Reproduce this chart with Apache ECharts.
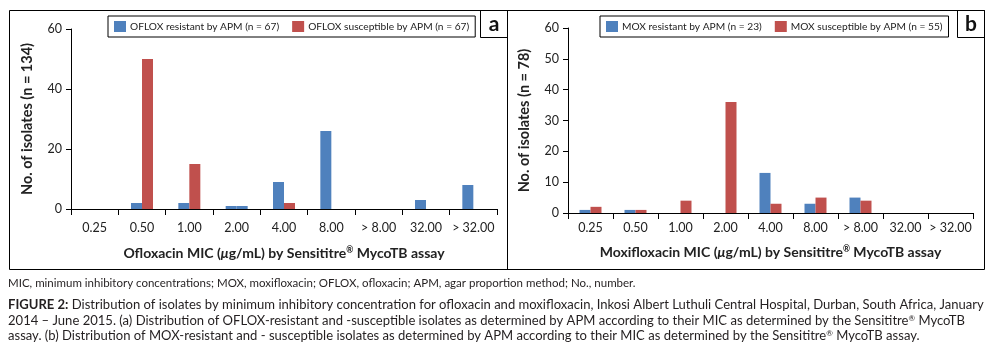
<!DOCTYPE html>
<html>
<head>
<meta charset="utf-8">
<script src="https://cdn.jsdelivr.net/npm/echarts@6/dist/echarts.min.js"></script>
<style>
  html, body { margin: 0; padding: 0; background: #fff; }
  #chart { width: 996px; height: 352px; }
</style>
</head>
<body>
<div id="chart"></div>
<script>
// MIC categories (same for both panels)
var micLabels = ['0.25', '0.50', '1.00', '2.00', '4.00', '8.00', '> 8.00', '32.00', '> 32.00'];

// panel a - ofloxacin
var oflxResistant = [0, 2, 2, 1, 9, 26, 0, 3, 8];
var oflxSusceptible = [0, 50, 15, 1, 2, 0, 0, 0, 0];
// panel b - moxifloxacin
var moxResistant = [1, 1, 0, 0, 13, 3, 5, 0, 0];
var moxSusceptible = [2, 1, 4, 36, 3, 5, 4, 0, 0];

var yTicksA = [0, 20, 40, 60];
var yTicksB = [0, 10, 20, 30, 40, 50, 60];

var blue = '#4F81BD';
var red = '#C0504D';
var font = 'Lato';

var myChart = echarts.init(document.getElementById('chart'), null, {renderer: 'canvas'});

function xAxisFor(idx, name, gap, margin) {
    return {
        type: 'category',
        gridIndex: idx,
        data: micLabels,
        axisLine: {lineStyle: {color: '#000', width: 1}},
        axisTick: {show: true, length: 6, lineStyle: {color: '#000'}},
        axisLabel: {color: '#222', fontFamily: font, fontSize: 12.5, margin: margin, interval: 0},
        name: name,
        nameLocation: 'middle',
        nameGap: gap,
        nameTextStyle: {
            color: '#222', fontFamily: font, fontSize: 14, fontWeight: 'bold',
            rich: {
                i: {fontStyle: 'italic', fontWeight: 'bold', fontFamily: font, fontSize: 14, color: '#222'},
                s: {fontSize: 8.5, fontWeight: 'bold', fontFamily: font, color: '#222', padding: [0, 0, 5, 0]}
            }
        }
    };
}

function yAxisFor(idx, name, ticks) {
    return {
        type: 'value',
        gridIndex: idx,
        min: 0,
        max: ticks[ticks.length - 1],
        interval: ticks[1] - ticks[0],
        splitLine: {show: false},
        axisLine: {show: true, lineStyle: {color: '#000', width: 1}},
        axisTick: {show: true, length: 5, lineStyle: {color: '#000'}},
        axisLabel: {color: '#222', fontFamily: font, fontSize: 12.5, margin: 9},
        name: name,
        nameLocation: 'middle',
        nameGap: 36,
        nameTextStyle: {color: '#222', fontFamily: font, fontSize: 14.5, fontWeight: 'bold'}
    };
}

function legendFor(left, names) {
    return {
        left: left,
        top: 16,
        data: [
            {name: names[0], itemStyle: {color: blue}},
            {name: names[1], itemStyle: {color: red}}
        ],
        itemWidth: 12,
        itemHeight: 11,
        itemGap: 13,
        padding: [5, 6],
        borderColor: '#000',
        borderWidth: 1,
        borderRadius: 0,
        icon: 'rect',
        textStyle: {color: '#222', fontFamily: font, fontSize: 10.2, padding: [0, 0, 0, -1]}
    };
}

function barSeries(name, data, xi, color) {
    return {
        name: name,
        type: 'bar',
        xAxisIndex: xi,
        yAxisIndex: xi,
        data: data,
        barWidth: 11,
        barGap: '0%',
        itemStyle: {color: color},
        emphasis: {disabled: true}
    };
}

var susceptA = barSeries('OFLOX susceptible by APM (n = 67)', oflxSusceptible, 0, red);
// the bar at 2.00 is drawn in blue in the original figure
susceptA.itemStyle = {color: function (p) { return p.dataIndex === 3 ? blue : red; }};

var capFill = '#231f20';
var capSize = 13.05;

option = {
    backgroundColor: '#fff',
    animation: false,
    grid: [
        {left: 71, right: 499, top: 29, bottom: 143},
        {left: 568, right: 23, top: 28, bottom: 139}
    ],
    legend: [
        legendFor(108, ['OFLOX resistant by APM (n = 67)', 'OFLOX susceptible by APM (n = 67)']),
        legendFor(600, ['MOX resistant by APM (n = 23)', 'MOX susceptible by APM (n = 55)'])
    ],
    xAxis: [
        xAxisFor(0, 'Ofloxacin MIC ({i|μ}g/mL) by Sensititre{s|®} MycoTB assay', 37, 12),
        xAxisFor(1, 'Moxifloxacin MIC ({i|μ}g/mL) by Sensititre{s|®} MycoTB assay', 32, 8)
    ],
    yAxis: [
        yAxisFor(0, 'No. of isolates (n = 134)', yTicksA),
        yAxisFor(1, 'No. of isolates (n = 78)', yTicksB)
    ],
    series: [
        barSeries('OFLOX resistant by APM (n = 67)', oflxResistant, 0, blue),
        susceptA,
        barSeries('MOX resistant by APM (n = 23)', moxResistant, 1, blue),
        barSeries('MOX susceptible by APM (n = 55)', moxSusceptible, 1, red)
    ],
    graphic: [
        // panel frames
        {type: 'rect', shape: {x: 9.5, y: 10.5, width: 975, height: 259}, style: {fill: null, stroke: '#000', lineWidth: 1}},
        {type: 'line', shape: {x1: 507.5, y1: 10, x2: 507.5, y2: 270}, style: {stroke: '#000', lineWidth: 1}},
        {type: 'rect', shape: {x: 480.5, y: 10.5, width: 27, height: 27}, style: {fill: null, stroke: '#000', lineWidth: 1}},
        {type: 'rect', shape: {x: 957.5, y: 10.5, width: 27, height: 27}, style: {fill: null, stroke: '#000', lineWidth: 1}},
        {type: 'text', x: 494, y: 24, style: {text: 'a', fill: '#111', fontFamily: font, fontSize: 21, fontWeight: 'bold', align: 'center', verticalAlign: 'middle'}},
        {type: 'text', x: 971, y: 24, style: {text: 'b', fill: '#111', fontFamily: font, fontSize: 21, fontWeight: 'bold', align: 'center', verticalAlign: 'middle'}},
        // captions
        {type: 'text', x: 8, y: 283, style: {text: 'MIC, minimum inhibitory concentrations; MOX, moxifloxacin; OFLOX, ofloxacin; APM, agar proportion method; No., number.', fill: capFill, fontFamily: font, fontSize: 11.5, verticalAlign: 'middle'}},
        {type: 'text', x: 8, y: 305, style: {
            text: '{b|FIGURE 2:} Distribution of isolates by minimum inhibitory concentration for ofloxacin and moxifloxacin, Inkosi Albert Luthuli Central Hospital, Durban, South Africa, January',
            fill: capFill, fontFamily: font, fontSize: capSize, verticalAlign: 'middle',
            rich: {b: {fontWeight: 'bold', fontFamily: font, fontSize: capSize, fill: capFill}}
        }},
        {type: 'text', x: 8, y: 321, style: {
            text: '2014 – June 2015. (a) Distribution of OFLOX-resistant and -susceptible isolates as determined by APM according to their MIC as determined by the Sensititre{s|®} MycoTB',
            fill: capFill, fontFamily: font, fontSize: capSize, verticalAlign: 'middle',
            rich: {s: {fontSize: 8, fontFamily: font, fill: capFill, padding: [0, 0, 6, 0]}}
        }},
        {type: 'text', x: 8, y: 336, style: {
            text: 'assay. (b) Distribution of MOX-resistant and - susceptible isolates as determined by APM according to their MIC as determined by the Sensititre{s|®} MycoTB assay.',
            fill: capFill, fontFamily: font, fontSize: capSize, verticalAlign: 'middle',
            rich: {s: {fontSize: 8, fontFamily: font, fill: capFill, padding: [0, 0, 6, 0]}}
        }}
    ]
};

myChart.setOption(option);
</script>
</body>
</html>
